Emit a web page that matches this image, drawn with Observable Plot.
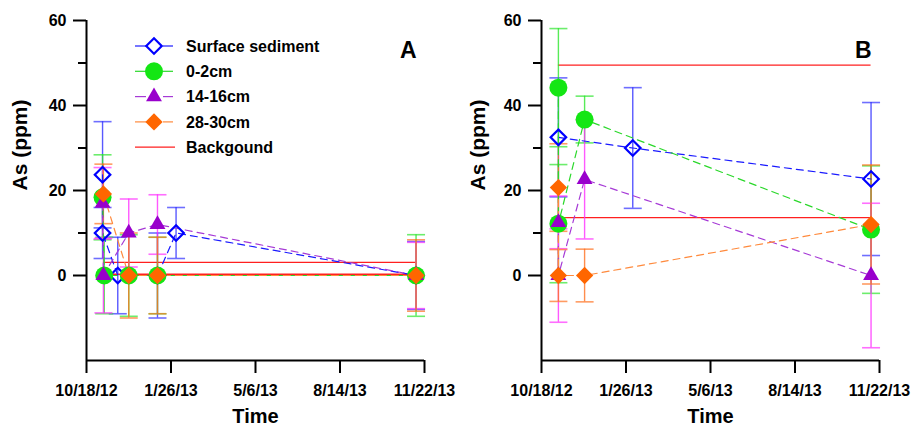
<!DOCTYPE html>
<html>
<head>
<meta charset="utf-8">
<script src="https://cdn.jsdelivr.net/npm/d3@7"></script>
<script src="https://cdn.jsdelivr.net/npm/@observablehq/plot@0.6"></script>
<style>
  html, body { margin: 0; padding: 0; background: #fff; }
  #wrap { position: relative; width: 915px; height: 427px; overflow: hidden; }
  #wrap svg { position: absolute; top: 0; }
</style>
</head>
<body>
<div id="wrap"></div>
<script>
// ---------- data ----------
const seriesNames = ["Surface sediment", "0-2cm", "14-16cm", "28-30cm"];
const backgroundName = "Backgound";

const xStart = "2012-10-18";
const xEnd = "2013-11-22";
const xTickDates = ["2012-10-18", "2013-01-26", "2013-05-06", "2013-08-14", "2013-11-22"];
const xTickLabels = ["10/18/12", "1/26/13", "5/6/13", "8/14/13", "11/22/13"];
const yMajorTicks = [0, 20, 40, 60];
const yMinorTicks = [10, 30, 50];
const yDomain = [-20, 60];

// Panel A
const aSurfaceDates = ["2012-11-06", "2012-11-06", "2012-11-24", "2013-01-10", "2013-02-01", "2013-11-12"];
const aSurfaceVals  = [23.7, 10, 0, 0, 10, 0];
const aSurfaceErr   = [12.5, 6, 9, 10, 6, 8];
const aTopDates = ["2012-11-06", "2012-11-08", "2012-12-07", "2013-01-10", "2013-11-12"];
const aTopVals  = [18.4, 0, 0, 0, 0];
const aTopErr   = [10, 9, 9.6, 9, 9.6];
const aMidDates = ["2012-11-06", "2012-11-07", "2012-12-07", "2013-01-10", "2013-11-12"];
const aMidVals  = [17, 0, 10, 12, 0];
const aMidErr   = [8.4, 8.8, 8, 7, 7.8];
const aDeepDates = ["2012-11-07", "2012-12-07", "2013-01-10", "2013-11-12"];
const aDeepVals  = [19.2, 0, 0, 0];
const aDeepErr   = [7, 10, 9, 8.4];
const aBackground = [3.1, 0.3];
const aBackgroundDates = ["2012-11-07", "2013-11-12"];

// Panel B
const bSurfaceDates = ["2012-11-07", "2013-02-03", "2013-11-12"];
const bSurfaceVals  = [32.5, 30, 22.7];
const bSurfaceErr   = [14, 14.2, 18];
const bTopDates = ["2012-11-07", "2012-11-07", "2012-12-08", "2013-11-12"];
const bTopVals  = [44.2, 12.2, 36.7, 10.8];
const bTopErr   = [13.9, 13.9, 5.5, 15];
const bMidDates = ["2012-11-07", "2012-11-07", "2012-12-08", "2013-11-12"];
const bMidVals  = [12.5, 0, 22.6, 0];
const bMidErr   = [6.2, 11, 14, 17];
const bDeepDates = ["2012-11-07", "2012-11-07", "2012-12-08", "2013-11-12"];
const bDeepVals  = [20.7, 0, 0, 12];
const bDeepErr   = [10.3, 6.1, 6.2, 14];
const bBackground = [49.5, 13.6];
const bBackgroundDates = ["2012-11-07", "2013-11-12"];

// ---------- styles ----------
const FONT = "'Liberation Sans', Arial, Helvetica, sans-serif";
const RED = "#ff2020";
const styles = [
  {line: "#1a1aff", bar: "#3030ff", symbol: "square", rotate: 45, r: 6.2, fill: "none", stroke: "#0000ff", sw: 2.2},
  {line: "#2ad82a", bar: "#2ee62e", symbol: "circle", rotate: 0, r: 9, fill: "#14e614", stroke: "none", sw: 0},
  {line: "#a63ad6", bar: "#ff30ff", symbol: "triangle", rotate: 0, r: 5.9, fill: "#9900cc", stroke: "none", sw: 0},
  {line: "#ff8a3d", bar: "#ff7020", symbol: "square", rotate: 45, r: 6.9, fill: "#ff6600", stroke: "none", sw: 0}
];

const parse = s => new Date(s + "T00:00:00Z");
const labelMap = new Map(xTickDates.map((d, i) => [+parse(d), xTickLabels[i]]));
const capSymbol = {
  draw(context, size) {
    const w = Math.sqrt(size / Math.PI);
    context.moveTo(-w, 0);
    context.lineTo(w, 0);
  }
};

function toRows(dates, vals, errs) {
  return dates.map((d, i) => ({date: parse(d), v: vals[i], e: errs[i]}));
}

function panel(cfg) {
  const series = cfg.series.map(s => toRows(s[0], s[1], s[2]));
  const bg = cfg.bg.map(v => ({y: v, x1: parse(cfg.bgDates[0]), x2: parse(cfg.bgDates[1])}));
  const marks = [];
  marks.push(Plot.ruleY(bg, {y: "y", x1: "x1", x2: "x2", stroke: RED, strokeWidth: 1.3}));
  series.forEach((rows, i) => {
    const st = styles[i];
    marks.push(Plot.ruleX(rows, {x: "date", y1: d => d.v - d.e, y2: d => d.v + d.e, stroke: st.bar, strokeWidth: 1.4, strokeOpacity: 0.8}));
    marks.push(Plot.dot(rows, {x: "date", y: d => d.v + d.e, symbol: capSymbol, r: 9, fill: "none", stroke: st.bar, strokeWidth: 1.6, strokeOpacity: 0.7}));
    marks.push(Plot.dot(rows, {x: "date", y: d => d.v - d.e, symbol: capSymbol, r: 9, fill: "none", stroke: st.bar, strokeWidth: 1.6, strokeOpacity: 0.7}));
  });
  series.forEach((rows, i) => {
    const st = styles[i];
    marks.push(Plot.line(rows, {x: "date", y: "v", stroke: st.line, strokeWidth: 1.2, strokeDasharray: "7,5"}));
  });
  series.forEach((rows, i) => {
    const st = styles[i];
    marks.push(Plot.dot(rows, {x: "date", y: "v", symbol: st.symbol, rotate: st.rotate, r: st.r, fill: st.fill, stroke: st.stroke, strokeWidth: st.sw}));
  });
  // axes
  marks.push(Plot.axisX({ticks: xTickDates.map(parse), tickFormat: d => labelMap.get(+d), tickSize: 13, tickPadding: 11, strokeWidth: 2, label: null, fontSize: 16, fontWeight: "bold"}));
  marks.push(Plot.axisY({ticks: yMajorTicks, tickSize: 13, tickPadding: 7, strokeWidth: 2, label: null, fontSize: 16, fontWeight: "bold"}));
  marks.push(Plot.axisY({ticks: yMinorTicks, tickSize: 8, tickFormat: () => "", strokeWidth: 2, label: null}));
  marks.push(Plot.ruleX([parse(xStart)], {strokeWidth: 2}));
  marks.push(Plot.ruleY([yDomain[0]], {strokeWidth: 2}));
  // titles
  marks.push(Plot.text(["As (ppm)"], {frameAnchor: "left", dx: cfg.ylabelDx, rotate: -90, fontSize: 21, fontWeight: "bold"}));
  marks.push(Plot.text(["Time"], {frameAnchor: "bottom", lineAnchor: "middle", dy: 56, fontSize: 20, fontWeight: "bold"}));
  marks.push(Plot.text([cfg.letter], {frameAnchor: "top-right", lineAnchor: "top", dx: -8, dy: 21, fontSize: 23, fontWeight: "bold"}));

  return Plot.plot({
    width: cfg.width, height: 427,
    marginTop: 20, marginBottom: 67, marginLeft: cfg.ml, marginRight: cfg.mr,
    x: {type: "utc", domain: [parse(xStart), parse(xEnd)]},
    y: {domain: yDomain},
    style: {fontFamily: FONT, fontSize: "16px", fontWeight: "bold", background: "transparent", overflow: "visible", color: "#000"},
    marks
  });
}

const plotA = panel({
  series: [[aSurfaceDates, aSurfaceVals, aSurfaceErr], [aTopDates, aTopVals, aTopErr], [aMidDates, aMidVals, aMidErr], [aDeepDates, aDeepVals, aDeepErr]],
  bg: aBackground, bgDates: aBackgroundDates, letter: "A",
  width: 457, ml: 86, mr: 33, ylabelDx: -66
});
const plotB = panel({
  series: [[bSurfaceDates, bSurfaceVals, bSurfaceErr], [bTopDates, bTopVals, bTopErr], [bMidDates, bMidVals, bMidErr], [bDeepDates, bDeepVals, bDeepErr]],
  bg: bBackground, bgDates: bBackgroundDates, letter: "B",
  width: 458, ml: 84, mr: 36, ylabelDx: -63
});
plotA.style.left = "0px";
plotB.style.left = "457px";
const wrap = document.getElementById("wrap");
wrap.appendChild(plotA);
wrap.appendChild(plotB);

// ---------- legend (panel A) ----------
const lg = d3.select(plotA).append("g")
  .attr("font-family", FONT).attr("font-weight", "bold").attr("font-size", 16)
  .attr("text-anchor", "start");
const legendNames = seriesNames.concat([backgroundName]);
const symMap = {circle: d3.symbolCircle, square: d3.symbolSquare, triangle: d3.symbolTriangle};
legendNames.forEach((name, i) => {
  const y = 46 + i * 25.3;
  const row = lg.append("g").attr("transform", `translate(0,${y})`);
  if (i < styles.length) {
    const st = styles[i];
    row.append("line").attr("x1", 135).attr("x2", 146).attr("y1", 0).attr("y2", 0).attr("stroke", st.line).attr("stroke-width", 1.2);
    row.append("line").attr("x1", 163).attr("x2", 173).attr("y1", 0).attr("y2", 0).attr("stroke", st.line).attr("stroke-width", 1.2);
    row.append("path")
      .attr("d", d3.symbol(symMap[st.symbol], Math.PI * st.r * st.r)())
      .attr("transform", `translate(154,0) rotate(${st.rotate})`)
      .attr("fill", st.fill).attr("stroke", st.stroke).attr("stroke-width", st.sw);
  } else {
    row.append("line").attr("x1", 135).attr("x2", 175).attr("y1", 0).attr("y2", 0).attr("stroke", RED).attr("stroke-width", 1.3);
  }
  row.append("text").attr("x", 186).attr("y", 0).attr("dy", "0.36em").attr("text-anchor", "start").text(name);
});
</script>
</body>
</html>
